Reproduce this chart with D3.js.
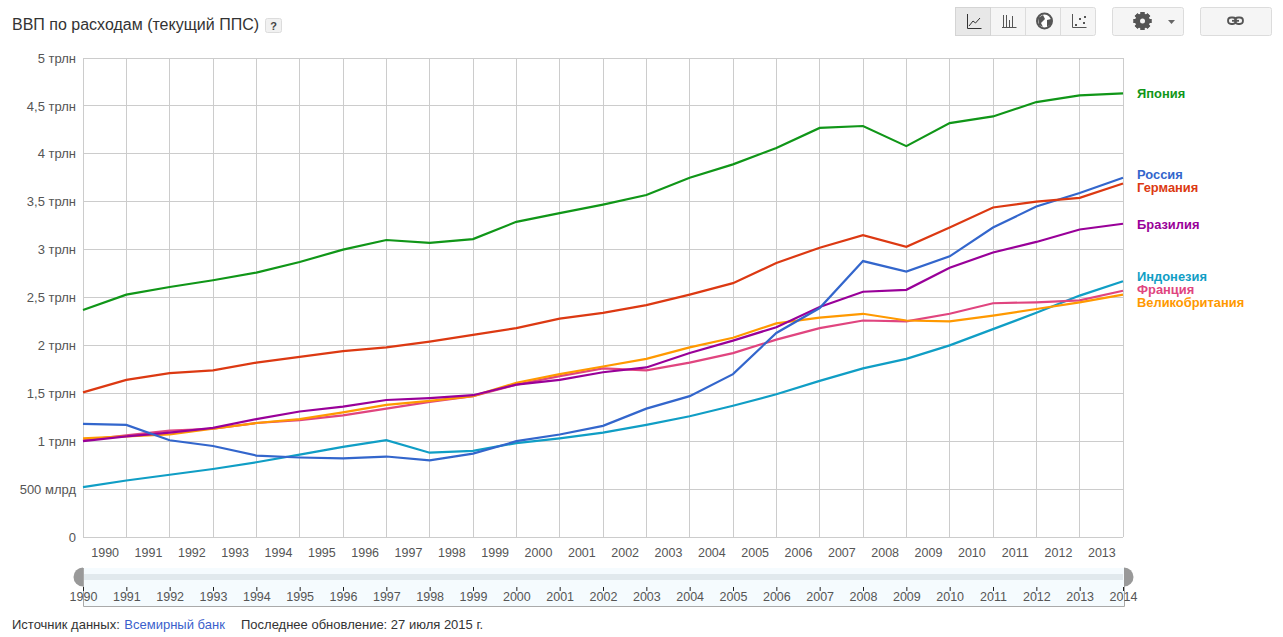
<!DOCTYPE html>
<html>
<head>
<meta charset="utf-8">
<script src="https://cdnjs.cloudflare.com/ajax/libs/d3/7.8.5/d3.min.js"></script>
<style>
    html, body { margin: 0; padding: 0; background: #fff; }
    svg { display: block; font-family: "Liberation Sans", Arial, sans-serif; }
</style>
</head>
<body>
<div id="chart"></div>
<script>
const years = d3.range(1990, 2015);
const yearLabels = d3.range(1990, 2014);

const yTicks = [0, 0.5, 1, 1.5, 2, 2.5, 3, 3.5, 4, 4.5, 5];
const yTickLabels = ["0", "500 млрд", "1 трлн", "1,5 трлн", "2 трлн", "2,5 трлн", "3 трлн", "3,5 трлн", "4 трлн", "4,5 трлн", "5 трлн"];

const indonesia = [.52, .59, .65, .71, .78, .86, .94, 1.01, .88, .90, .98, 1.03, 1.09, 1.17, 1.26, 1.37, 1.49, 1.63, 1.76, 1.86, 2.00, 2.17, 2.34, 2.52, 2.67];
const france = [1.01, 1.06, 1.11, 1.13, 1.19, 1.22, 1.27, 1.34, 1.41, 1.47, 1.59, 1.68, 1.76, 1.74, 1.82, 1.92, 2.06, 2.18, 2.26, 2.25, 2.33, 2.44, 2.45, 2.47, 2.57];
const uk = [1.03, 1.05, 1.07, 1.13, 1.19, 1.23, 1.30, 1.38, 1.42, 1.47, 1.61, 1.70, 1.78, 1.86, 1.98, 2.08, 2.23, 2.29, 2.33, 2.26, 2.25, 2.31, 2.38, 2.45, 2.53];
const brazil = [1.00, 1.05, 1.09, 1.14, 1.23, 1.31, 1.36, 1.43, 1.45, 1.48, 1.59, 1.64, 1.72, 1.77, 1.92, 2.05, 2.19, 2.40, 2.56, 2.58, 2.81, 2.97, 3.08, 3.21, 3.27];
const russia = [1.18, 1.17, 1.01, .95, .85, .83, .82, .84, .80, .87, 1.00, 1.07, 1.16, 1.34, 1.47, 1.70, 2.13, 2.39, 2.88, 2.77, 2.93, 3.23, 3.45, 3.59, 3.75];
const germany = [1.51, 1.64, 1.71, 1.74, 1.82, 1.88, 1.94, 1.98, 2.04, 2.11, 2.18, 2.28, 2.34, 2.42, 2.53, 2.65, 2.86, 3.02, 3.15, 3.03, 3.23, 3.44, 3.50, 3.54, 3.69];
const japan = [2.37, 2.53, 2.61, 2.68, 2.76, 2.87, 3.00, 3.10, 3.07, 3.11, 3.29, 3.38, 3.47, 3.57, 3.75, 3.89, 4.06, 4.27, 4.29, 4.08, 4.32, 4.39, 4.54, 4.61, 4.63];

const seriesNames = ["Индонезия", "Франция", "Великобритания", "Бразилия", "Россия", "Германия", "Япония"];
const seriesValues = [indonesia, france, uk, brazil, russia, germany, japan];
const seriesColors = ["#109ec5", "#e0457f", "#ff9900", "#990099", "#3366cc", "#dc3912", "#109618"];
const labelY = [277, 290, 303, 225, 175, 188, 94];

const width = 1283, height = 637;
const plotLeft = 83, plotRight = 1123, plotTop = 58, plotBottom = 537;

const x = d3.scaleLinear().domain([1990, 2014]).range([plotLeft, plotRight]);
const y = d3.scaleLinear().domain([0, 5]).range([plotBottom, plotTop]);

const svg = d3.select("#chart").append("svg")
    .attr("width", width)
    .attr("height", height);

// title
svg.append("text")
    .attr("x", 12).attr("y", 30)
    .attr("font-size", 16).attr("fill", "#333")
    .text("ВВП по расходам (текущий ППС)");

svg.append("rect")
    .attr("x", 265.5).attr("y", 18.5).attr("width", 16).attr("height", 14).attr("rx", 2)
    .attr("fill", "#f1f1f1").attr("stroke", "#dcdcdc");
svg.append("text")
    .attr("x", 273.5).attr("y", 30)
    .attr("text-anchor", "middle").attr("font-size", 11).attr("font-weight", "bold").attr("fill", "#444")
    .text("?");

// toolbar buttons
const btn = svg.append("g");
[[955, 140], [1112, 71], [1200, 71]].forEach(b => {
    btn.append("rect")
        .attr("x", b[0] + .5).attr("y", 7.5).attr("width", b[1]).attr("height", 28).attr("rx", 2)
        .attr("fill", "#f5f5f5").attr("stroke", "#dcdcdc");
});
btn.append("rect").attr("x", 955.5).attr("y", 7.5).attr("width", 35).attr("height", 28)
    .attr("fill", "#e8e8e8").attr("stroke", "#d4d4d4");
[1025.5, 1060.5].forEach(d => {
    btn.append("line").attr("x1", d).attr("x2", d).attr("y1", 8).attr("y2", 35).attr("stroke", "#dcdcdc");
});
btn.append("path").attr("d", "M967.5 14V28.5H981.5M969 26L973 21L975.5 23L980 18").attr("fill", "none").attr("stroke", "#333");
btn.append("path").attr("d", "M1003.5 15V27.5M1006.5 15V27.5M1009.5 20V27.5M1012.5 16V27.5M1002 27.5H1016.5").attr("fill", "none").attr("stroke", "#555");
btn.append("circle").attr("cx", 1044.5).attr("cy", 21).attr("r", 7.5).attr("fill", "#fff").attr("stroke", "#555").attr("stroke-width", 2);
btn.append("path").attr("d", "M1038 18L1043 15L1045 19L1041 23L1043 27L1039 25ZM1047 20L1051 19L1051 24L1047 27Z").attr("fill", "#555");
btn.append("path").attr("d", "M1072.5 14V27.5H1086.5").attr("fill", "none").attr("stroke", "#555");
btn.append("path").attr("d", "M1075 24h2v2h-2zM1079 18h2v2h-2zM1083 22h2v2h-2zM1084 16h2v2h-2z").attr("fill", "#555");

// gear
const gear = btn.append("g").attr("transform", "translate(1142.5,21)");
d3.range(8).forEach(i => {
    gear.append("rect").attr("x", -2).attr("y", -9).attr("width", 4).attr("height", 18)
        .attr("fill", "#555").attr("transform", "rotate(" + i * 45 + ")");
});
gear.append("circle").attr("r", 6).attr("fill", "none").attr("stroke", "#555").attr("stroke-width", 3);
gear.append("circle").attr("r", 2.5).attr("fill", "#f5f5f5");
btn.append("path").attr("d", "M1168 20H1175L1171.5 24Z").attr("fill", "#666");

// link
btn.append("rect").attr("x", 1228).attr("y", 17.5).attr("width", 8).attr("height", 6.5).attr("rx", 3.2).attr("fill", "none").attr("stroke", "#555").attr("stroke-width", 1.8);
btn.append("rect").attr("x", 1235).attr("y", 17.5).attr("width", 8).attr("height", 6.5).attr("rx", 3.2).attr("fill", "none").attr("stroke", "#555").attr("stroke-width", 1.8);
btn.append("line").attr("x1", 1232).attr("x2", 1239).attr("y1", 20.8).attr("y2", 20.8).attr("stroke", "#555").attr("stroke-width", 1.8);

// grid
const grid = svg.append("g").attr("stroke", "#ccc").attr("stroke-width", 1).attr("shape-rendering", "crispEdges");
grid.selectAll(".v").data(years).enter().append("line")
    .attr("class", "v")
    .attr("x1", d => x(d)).attr("x2", d => x(d)).attr("y1", plotTop).attr("y2", plotBottom);
grid.selectAll(".h").data(yTicks).enter().append("line")
    .attr("class", "h")
    .attr("x1", plotLeft).attr("x2", plotRight).attr("y1", d => y(d)).attr("y2", d => y(d));

// y axis
const yAxis = svg.append("g")
    .attr("transform", "translate(" + plotLeft + ",0)")
    .call(d3.axisLeft(y).tickValues(yTicks).tickSize(0).tickPadding(7).tickFormat((d, i) => yTickLabels[i]));
yAxis.select(".domain").remove();
yAxis.selectAll("text").attr("font-size", 13).attr("font-family", "Liberation Sans").attr("fill", "#555");

// x axis, the labels sit in the middle of each year
const xAxis = svg.append("g")
    .attr("transform", "translate(0," + (plotBottom + 1) + ")")
    .call(d3.axisBottom(x).tickValues(yearLabels.map(d => d + 0.5)).tickSize(0).tickPadding(10).tickFormat(d => Math.floor(d)));
xAxis.select(".domain").remove();
xAxis.selectAll("text").attr("font-size", 12.5).attr("font-family", "Liberation Sans").attr("fill", "#555");

// lines
const line = d3.line().x((d, i) => x(years[i])).y(d => y(d));
svg.append("g").selectAll("path").data(seriesValues).enter().append("path")
    .attr("d", line)
    .attr("fill", "none")
    .attr("stroke", (d, i) => seriesColors[i])
    .attr("stroke-width", 2.2);

// end labels
svg.append("g").selectAll("text").data(seriesNames).enter().append("text")
    .attr("x", 1137)
    .attr("y", (d, i) => labelY[i] + 4)
    .attr("font-size", 12.9)
    .attr("font-weight", "bold")
    .attr("fill", (d, i) => seriesColors[i])
    .text(d => d);

// slider
const slider = svg.append("g");
slider.append("rect").attr("x", plotLeft).attr("y", 568).attr("width", plotRight - plotLeft + 1).attr("height", 38).attr("fill", "#f5fbfe");
slider.append("rect").attr("x", plotLeft).attr("y", 574).attr("width", plotRight - plotLeft).attr("height", 6).attr("fill", "#e1e9ed");
slider.append("path").attr("d", "M83.5 568V606.5H1124.5V568").attr("fill", "none").attr("stroke", "#aaa").attr("stroke-width", 1);
const handle = d3.arc().innerRadius(0).outerRadius(9.5);
slider.append("path").attr("transform", "translate(83,577)").attr("fill", "#999")
    .attr("d", handle({ startAngle: Math.PI, endAngle: 2 * Math.PI }));
slider.append("path").attr("transform", "translate(1124,577)").attr("fill", "#999")
    .attr("d", handle({ startAngle: 0, endAngle: Math.PI }));

const sliderAxis = svg.append("g")
    .attr("transform", "translate(0,587)")
    .call(d3.axisBottom(x).tickValues(years).tickSize(4).tickPadding(0).tickFormat(d => d));
sliderAxis.select(".domain").remove();
sliderAxis.selectAll("line").attr("stroke", "#222");
sliderAxis.selectAll("text").attr("font-size", 12.5).attr("font-family", "Liberation Sans").attr("fill", "#555").attr("y", 5).attr("dy", "0.71em");

// footer
const foot = svg.append("text").attr("x", 12).attr("y", 629).attr("font-size", 13).attr("fill", "#333");
foot.append("tspan").text("Источник данных: ");
foot.append("tspan").attr("dx", 1).attr("fill", "#3b5fcc").text("Всемирный банк");
svg.append("text").attr("x", 241).attr("y", 629).attr("font-size", 13).attr("fill", "#333")
    .text("Последнее обновление: 27 июля 2015 г.");
</script>
</body>
</html>
